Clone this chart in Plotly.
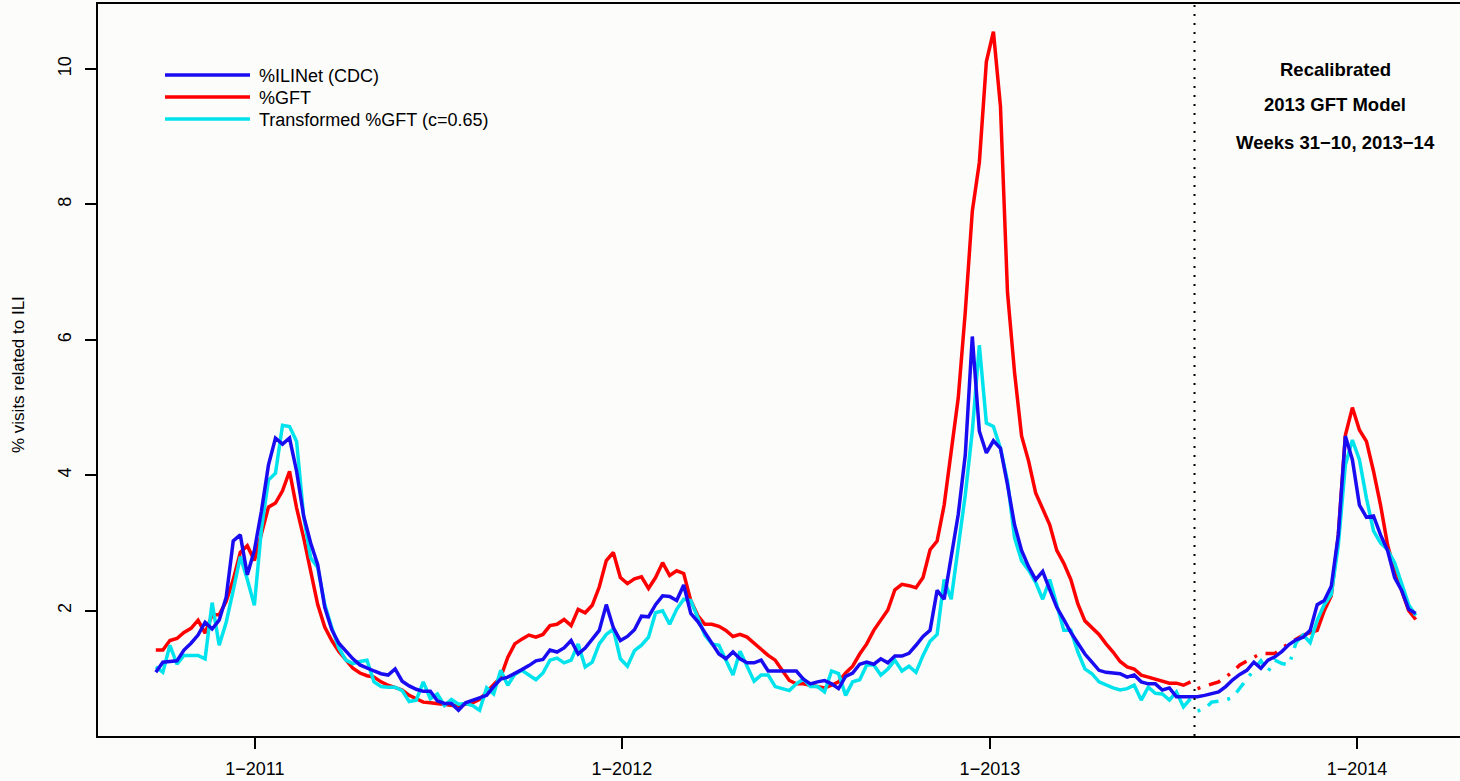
import pandas as pd
import plotly.graph_objects as go

# weekly time axis (one point per week)
weeks = pd.date_range("2010-09-24 12:00", periods=180, freq="7D")

ilinet = [
    1.09, 1.24, 1.25, 1.26, 1.42, 1.52, 1.64, 1.83, 1.73, 1.86,
    2.20, 3.03, 3.12, 2.53, 2.89, 3.47, 4.15, 4.55, 4.46, 4.55,
    4.06, 3.40, 3.00, 2.68, 2.05, 1.72, 1.52, 1.41, 1.29, 1.20,
    1.15, 1.11, 1.07, 1.05, 1.14, 0.96, 0.89, 0.84, 0.81, 0.81,
    0.67, 0.63, 0.63, 0.53, 0.64, 0.68, 0.72, 0.75, 0.88, 0.99,
    1.02, 1.07, 1.13, 1.19, 1.26, 1.28, 1.42, 1.39, 1.45, 1.56,
    1.36, 1.45, 1.58, 1.71, 2.09, 1.75, 1.56, 1.62, 1.72, 1.92,
    1.91, 2.09, 2.22, 2.21, 2.15, 2.38, 1.96, 1.84, 1.68, 1.51,
    1.36, 1.29, 1.39, 1.29, 1.23, 1.23, 1.27, 1.11, 1.11, 1.11,
    1.11, 1.11, 0.99, 0.92, 0.95, 0.97, 0.92, 0.85, 1.03, 1.08,
    1.21, 1.24, 1.21, 1.29, 1.23, 1.33, 1.33, 1.37, 1.49, 1.62,
    1.71, 2.30, 2.17, 2.78, 3.42, 4.30, 6.05, 4.65, 4.33, 4.51,
    4.40, 3.86, 3.27, 2.89, 2.65, 2.46, 2.58, 2.31, 2.05, 1.87,
    1.68, 1.52, 1.36, 1.24, 1.12, 1.09, 1.08, 1.07, 1.02, 1.05,
    0.95, 0.92, 0.92, 0.83, 0.86, 0.73, 0.73, 0.73, 0.73, 0.75,
    0.77, 0.80, 0.88, 0.98, 1.06, 1.12, 1.24, 1.15, 1.27, 1.32,
    1.40, 1.50, 1.57, 1.61, 1.71, 2.09, 2.15, 2.36, 3.12, 4.58,
    4.23, 3.56, 3.38, 3.40, 3.12, 2.89, 2.49, 2.30, 2.02, 1.96,
]

gft = [
    1.42, 1.42, 1.56, 1.59, 1.68, 1.74, 1.86, 1.67, 1.94, 1.94,
    2.14, 2.46, 2.86, 2.96, 2.74, 3.15, 3.53, 3.59, 3.77, 4.06,
    3.52, 3.08, 2.59, 2.09, 1.76, 1.56, 1.40, 1.27, 1.15, 1.08,
    1.04, 1.02, 0.95, 0.90, 0.86, 0.83, 0.75, 0.70, 0.65, 0.64,
    0.63, 0.62, 0.61, 0.59, 0.62, 0.64, 0.69, 0.80, 0.90, 1.02,
    1.31, 1.51, 1.58, 1.64, 1.61, 1.65, 1.78, 1.80, 1.87, 1.78,
    2.02, 1.97, 2.08, 2.35, 2.74, 2.86, 2.49, 2.40, 2.47, 2.50,
    2.33, 2.49, 2.71, 2.52, 2.59, 2.55, 2.15, 1.93, 1.80, 1.80,
    1.77, 1.71, 1.62, 1.65, 1.61, 1.52, 1.42, 1.34, 1.27, 1.12,
    0.97, 0.92, 0.92, 0.90, 0.88, 0.86, 0.90, 0.95, 1.08, 1.18,
    1.36, 1.51, 1.71, 1.87, 2.01, 2.31, 2.39, 2.37, 2.34, 2.49,
    2.90, 3.03, 3.56, 4.35, 5.14, 6.41, 7.90, 8.62, 10.11, 10.55,
    9.45, 6.70, 5.52, 4.58, 4.21, 3.74, 3.50, 3.27, 2.89, 2.70,
    2.46, 2.10, 1.85, 1.75, 1.65, 1.51, 1.39, 1.25, 1.17, 1.14,
    1.05, 1.02, 0.99, 0.96, 0.93, 0.93, 0.90, 0.95, 0.85, 0.88,
    0.92, 0.95, 1.02, 1.10, 1.20, 1.26, 1.32, 1.37, 1.37, 1.37,
    1.45, 1.52, 1.58, 1.64, 1.68, 1.71, 2.00, 2.22, 3.12, 4.59,
    5.00, 4.67, 4.50, 4.06, 3.56, 2.97, 2.59, 2.30, 2.00, 1.87,
]

gft_transformed = [
    1.17, 1.09, 1.49, 1.21, 1.34, 1.34, 1.34, 1.29, 2.12, 1.49,
    1.83, 2.30, 2.80, 2.46, 2.08, 3.20, 3.93, 4.03, 4.74, 4.72,
    4.50, 3.40, 2.78, 2.64, 2.09, 1.75, 1.45, 1.27, 1.22, 1.25,
    1.27, 0.95, 0.88, 0.87, 0.87, 0.82, 0.66, 0.68, 0.95, 0.70,
    0.77, 0.60, 0.69, 0.62, 0.63, 0.60, 0.53, 0.86, 0.77, 1.12,
    0.90, 1.06, 1.12, 1.05, 0.98, 1.08, 1.27, 1.30, 1.23, 1.27,
    1.51, 1.17, 1.24, 1.51, 1.65, 1.73, 1.29, 1.18, 1.41, 1.49,
    1.61, 1.97, 2.00, 1.80, 2.02, 2.17, 2.15, 1.90, 1.64, 1.51,
    1.49, 1.27, 1.05, 1.40, 1.17, 0.96, 1.05, 1.05, 0.88, 0.85,
    0.82, 0.92, 0.99, 0.88, 0.88, 0.80, 1.11, 1.07, 0.75, 0.95,
    0.98, 1.20, 1.20, 1.05, 1.14, 1.27, 1.11, 1.18, 1.09, 1.34,
    1.55, 1.65, 2.46, 2.17, 2.98, 3.71, 4.65, 5.92, 4.77, 4.72,
    4.40, 3.91, 3.08, 2.74, 2.60, 2.42, 2.17, 2.46, 2.09, 1.71,
    1.71, 1.39, 1.14, 1.07, 0.95, 0.90, 0.86, 0.83, 0.85, 0.90,
    0.68, 0.87, 0.78, 0.77, 0.68, 0.80, 0.58, 0.70, 0.52, 0.55,
    0.65, 0.67, 0.68, 0.72, 0.85, 0.98, 1.12, 1.26, 1.10, 1.27,
    1.22, 1.20, 1.53, 1.64, 1.53, 1.86, 2.09, 2.24, 2.97, 4.15,
    4.52, 4.23, 3.66, 3.18, 3.00, 2.90, 2.71, 2.39, 2.09, 1.93,
]

series_names = ["%ILINet (CDC)", "%GFT", "Transformed %GFT (c=0.65)"]
tick_dates = ["2011-01-01", "2012-01-01", "2013-01-01", "2014-01-01"]
tick_labels = ["1\u22122011", "1\u22122012", "1\u22122013", "1\u22122014"]
y_ticks = [2, 4, 6, 8, 10]
recal_date = "2013-07-23 12:00"
side_text = ["Recalibrated", "2013 GFT Model", "Weeks 31\u221210, 2013\u221214"]

# segment boundaries (week index)
OLD_END = 148          # solid (original) part: 0..147
RED_RECAL_END = 164    # red dash-dot part: 148..163
CYAN_RECAL_END = 163   # cyan dash-dot part: 148..162

BLUE = "#1a0cf0"
RED = "#ff0000"
CYAN = "#00e3ec"
LW = 3.5
DASHDOT = "3px,9px,12px,9px"
FONT = "Liberation Sans, Arial, Helvetica, sans-serif"

fig = go.Figure()


def seg(x, y, color, dash, name):
    fig.add_trace(go.Scatter(x=list(x), y=list(y), mode="lines", name=name,
                             line=dict(color=color, width=LW, dash=dash),
                             showlegend=False, hoverinfo="x+y"))


# red (%GFT)
seg(weeks[:OLD_END], gft[:OLD_END], RED, "solid", series_names[1])
seg(weeks[OLD_END:RED_RECAL_END], gft[OLD_END:RED_RECAL_END], RED, DASHDOT, series_names[1])
seg(weeks[RED_RECAL_END - 1:], gft[RED_RECAL_END - 1:], RED, "solid", series_names[1])
# cyan (transformed)
seg(weeks[:OLD_END], gft_transformed[:OLD_END], CYAN, "solid", series_names[2])
seg(weeks[OLD_END:CYAN_RECAL_END], gft_transformed[OLD_END:CYAN_RECAL_END], CYAN, DASHDOT, series_names[2])
seg(weeks[CYAN_RECAL_END - 1:], gft_transformed[CYAN_RECAL_END - 1:], CYAN, "solid", series_names[2])
# blue (ILINet)
seg(weeks, ilinet, BLUE, "solid", series_names[0])

# layout geometry (pixels); plot area runs slightly past the right edge of the window
W, H = 1463, 781
ML, MR, MT, MB = 98, 0, 4, 45
PW, PH = W - ML - MR, H - MT - MB


def px2paper_x(px):
    return (px - ML) / PW


def px2paper_y(py):
    return (H - MB - py) / PH


shapes = []
annotations = []

# vertical dotted line at recalibration start
shapes.append(dict(type="line", xref="x", yref="paper", x0=recal_date, x1=recal_date,
                   y0=0, y1=1, line=dict(color="black", width=2, dash="2px,7px")))

# manual legend
legend_colors = [BLUE, RED, CYAN]
legend_y = [75, 97, 119]
for name, col, ly in zip(series_names, legend_colors, legend_y):
    shapes.append(dict(type="line", xref="paper", yref="paper",
                       x0=px2paper_x(165), x1=px2paper_x(250),
                       y0=px2paper_y(ly), y1=px2paper_y(ly),
                       line=dict(color=col, width=LW)))
    annotations.append(dict(xref="paper", yref="paper", x=px2paper_x(257), y=px2paper_y(ly + 1),
                            text=name, showarrow=False, xanchor="left", yanchor="middle",
                            font=dict(family=FONT, size=18, color="black")))

# side text
for t, ty in zip(side_text, [70, 105, 142]):
    annotations.append(dict(xref="paper", yref="paper", x=px2paper_x(1335), y=px2paper_y(ty),
                            text="<b>%s</b>" % t, showarrow=False, xanchor="center", yanchor="middle",
                            font=dict(family=FONT, size=18.5, color="black")))

# y axis title
annotations.append(dict(xref="paper", yref="paper", x=0, y=px2paper_y(375), xshift=18 - ML,
                        text="% visits related to ILI", textangle=-90, showarrow=False,
                        xanchor="center", yanchor="middle",
                        font=dict(family=FONT, size=17, color="black")))

BG = "#fcfcfb"
fig.update_layout(
    width=W, height=H,
    margin=dict(l=ML, r=MR, t=MT, b=MB, pad=0, autoexpand=False),
    paper_bgcolor=BG, plot_bgcolor=BG,
    showlegend=False,
    shapes=shapes, annotations=annotations,
    font=dict(family=FONT, size=18, color="black"),
    xaxis=dict(type="date", range=["2010-07-29", "2014-04-16 12:00"], automargin=False,
               tickmode="array", tickvals=tick_dates, ticktext=tick_labels,
               ticks="outside", ticklen=11, tickwidth=2, tickcolor="black",
               showline=True, linewidth=2, linecolor="black", mirror=True,
               showgrid=False, zeroline=False,
               tickfont=dict(family=FONT, size=18, color="black"), ticklabelstandoff=4),
    yaxis=dict(range=[0.15, 10.96], tickmode="array", tickvals=y_ticks, automargin=False,
               ticktext=[str(v) for v in y_ticks], tickangle=-90,
               ticks="outside", ticklen=11, tickwidth=2, tickcolor="black",
               showline=True, linewidth=2, linecolor="black", mirror=False,
               showgrid=False, zeroline=False,
               tickfont=dict(family=FONT, size=18, color="black"), ticklabelstandoff=7),
)

fig.write_html(
    "out.html",
    config={"displayModeBar": False},
    post_script="document.body.style.margin='0';document.body.style.overflow='hidden';"
                "document.body.style.background='%s';" % BG,
)
